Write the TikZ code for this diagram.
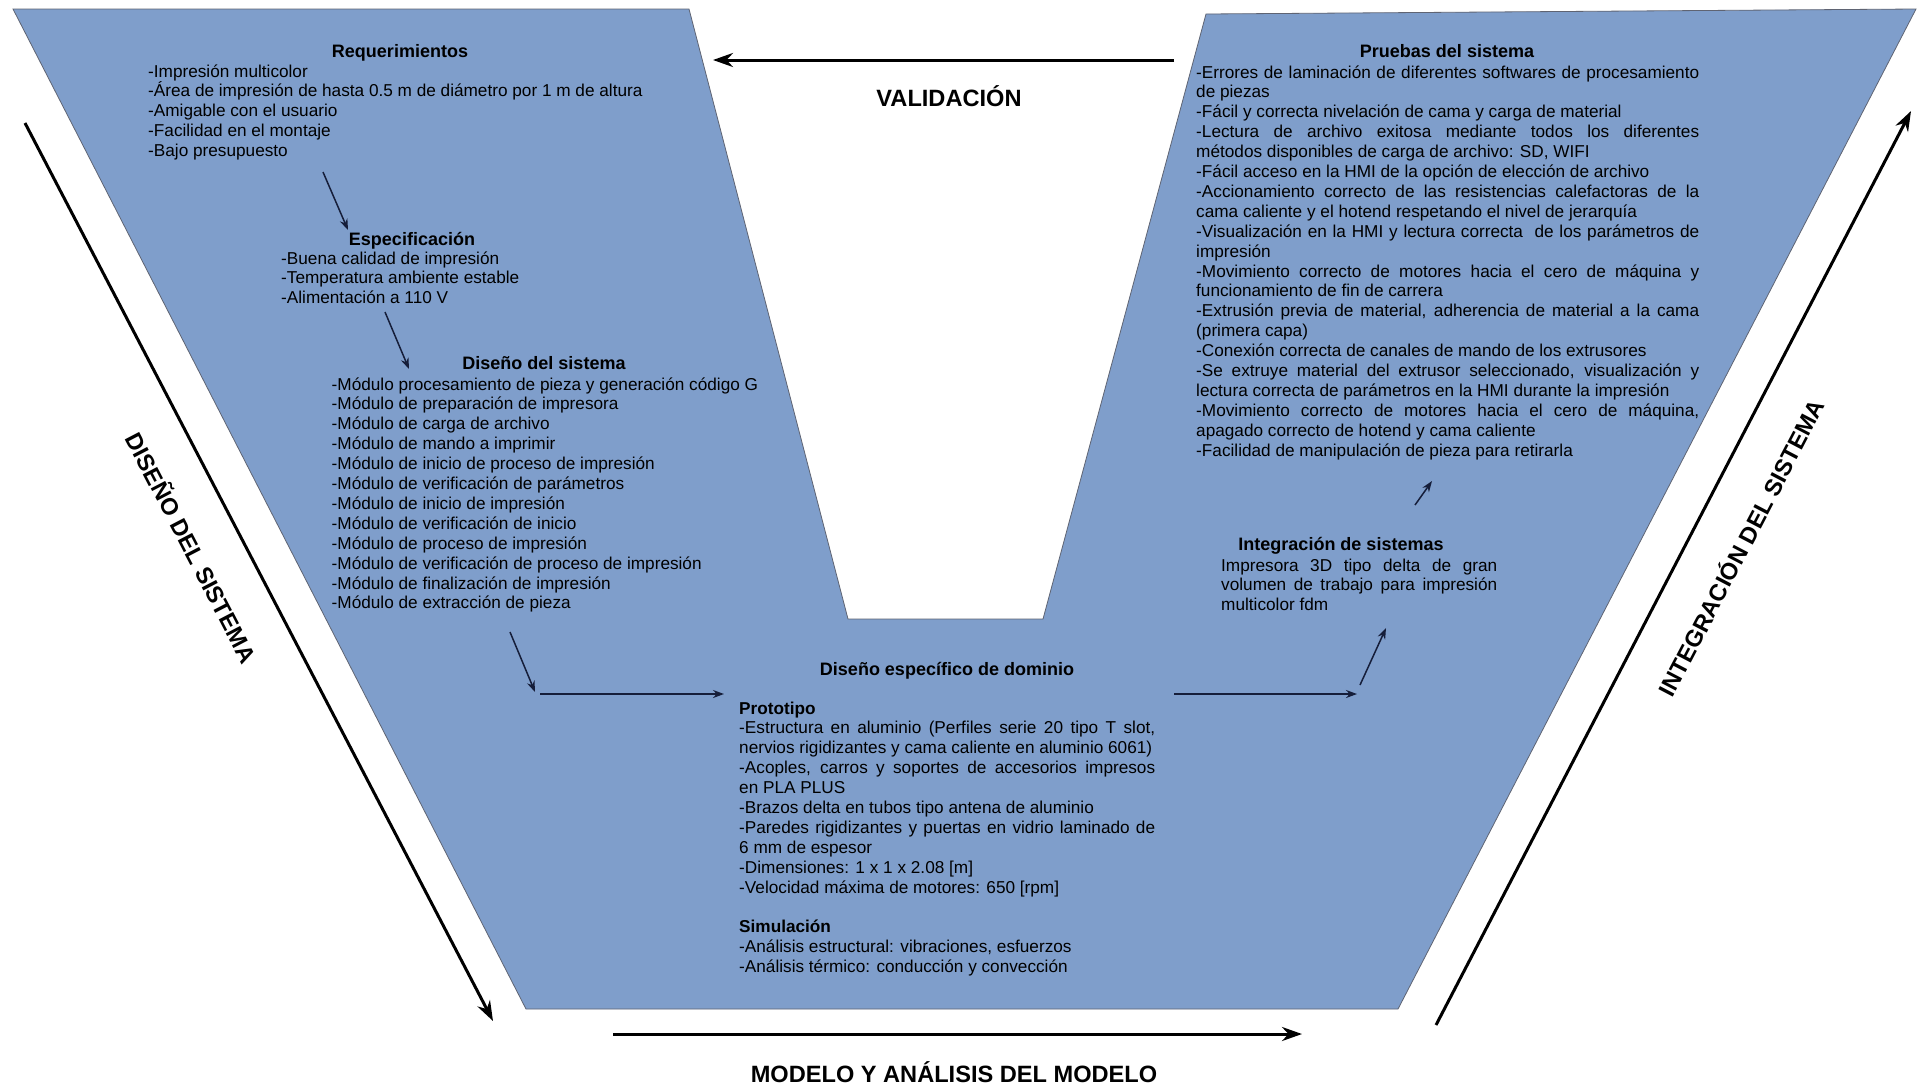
\documentclass[tikz,border=0pt]{standalone}
\usepackage{fontspec}
\setmainfont{Liberation Sans}
\usetikzlibrary{arrows.meta}
\definecolor{vfill}{RGB}{127,158,203}
\definecolor{vedge}{RGB}{95,100,115}
\definecolor{inarr}{RGB}{22,30,58}
\newcommand{\jl}[2]{\makebox[#1][s]{#2}}
\begin{document}
\begin{tikzpicture}[x=1pt,y=-1pt,
  body/.style={anchor=base west, inner sep=0pt, align=left, font=\fontsize{17.2}{19.9}\selectfont, text=black},
  ttl/.style={anchor=base, inner sep=0pt, font=\bfseries\fontsize{18}{20}\selectfont, text=black},
  big/.style={inner sep=0pt, font=\bfseries\fontsize{23.6}{26}\selectfont, text=black},
  inarrow/.style={draw=inarr, line width=1.5pt, -{Stealth[length=11pt,width=8pt]}},
  outarrow/.style={draw=black, line width=3pt, -{Stealth[length=20pt,width=14pt]}},
]
\useasboundingbox (0,0) rectangle (1918,1088);
\fill[white] (0,0) rectangle (1918,1088);

% V shape
\draw[fill=vfill, draw=vedge, line width=0.8pt]
  (13,9) -- (689,9) -- (848,619) -- (1043,619) -- (1206,14) -- (1916,9)
  -- (1398,1009) -- (526,1009) -- cycle;

% outer arrows
\coordinate (valS) at (1174,60);
\coordinate (valE) at (713,60);
\coordinate (dsS) at (25,123);
\coordinate (dsE) at (493,1021);
\coordinate (mdS) at (613,1034);
\coordinate (mdE) at (1302,1034);
\coordinate (isS) at (1436,1025);
\coordinate (isE) at (1911,111);
\draw[outarrow] (valS) -- (valE);
\draw[outarrow] (dsS) -- (dsE);
\draw[outarrow] (mdS) -- (mdE);
\draw[outarrow] (isS) -- (isE);

\node[big, anchor=base] (val) at (949,106.5) {VALIDACIÓN};
\node[big, anchor=base] (mod) at (954,1082.5) {MODELO Y ANÁLISIS DEL MODELO};
\node[big, rotate=-62.5] (dis) at (193,547) {DISEÑO DEL SISTEMA};
\node[big, rotate=62.4] (int) at (1740,547) {INTEGRACIÓN DEL SISTEMA};

% Requerimientos (anchor = baseline of last line)
\node[ttl] (reqT) at (400,57) {Requerimientos};
\node[body] (reqB) at (148,156.6) {-Impresión multicolor\\
-Área de impresión de hasta 0.5 m de diámetro por 1 m de altura\\
-Amigable con el usuario\\
-Facilidad en el montaje\\
-Bajo presupuesto};

% Especificacion
\node[ttl] (espT) at (412,245) {Especificación};
\node[body] (espB) at (281,303.8) {-Buena calidad de impresión\\
-Temperatura ambiente estable\\
-Alimentación a 110 V};

% Diseno del sistema
\node[ttl] (disT) at (544,369) {Diseño del sistema};
\node[body] (disB) at (331.5,608.9) {-Módulo procesamiento de pieza y generación código G\\
-Módulo de preparación de impresora\\
-Módulo de carga de archivo\\
-Módulo de mando a imprimir\\
-Módulo de inicio de proceso de impresión\\
-Módulo de verificación de parámetros\\
-Módulo de inicio de impresión\\
-Módulo de verificación de inicio\\
-Módulo de proceso de impresión\\
-Módulo de verificación de proceso de impresión\\
-Módulo de finalización de impresión\\
-Módulo de extracción de pieza};

% Diseno especifico de dominio
\node[ttl] (domT) at (947,675) {Diseño específico de dominio};
\node[body] (domB) at (739,972.7) {\textbf{Prototipo}\\
\jl{416pt}{-Estructura en aluminio (Perfiles serie 20 tipo T slot,}\\
nervios rigidizantes y cama caliente en aluminio 6061)\\
\jl{416pt}{-Acoples, carros y soportes de accesorios impresos}\\
en PLA PLUS\\
-Brazos delta en tubos tipo antena de aluminio\\
\jl{416pt}{-Paredes rigidizantes y puertas en vidrio laminado de}\\
6 mm de espesor\\
-Dimensiones: 1 x 1 x 2.08 [m]\\
-Velocidad máxima de motores: 650 [rpm]\\[19.9pt]
\textbf{Simulación}\\
-Análisis estructural: vibraciones, esfuerzos\\
-Análisis térmico: conducción y convección};

% Integracion de sistemas
\node[ttl] (intT) at (1341,550) {Integración de sistemas};
\node[body] (intB) at (1221,610.8) {\jl{276pt}{Impresora 3D tipo delta de gran}\\
\jl{276pt}{volumen de trabajo para impresión}\\
multicolor fdm};

% Pruebas del sistema
\node[ttl] (prT) at (1447,57) {Pruebas del sistema};
\node[body] (prB) at (1196,456.1) {\jl{503pt}{-Errores de laminación de diferentes softwares de procesamiento}\\
de piezas\\
-Fácil y correcta nivelación de cama y carga de material\\
\jl{503pt}{-Lectura de archivo exitosa mediante todos los diferentes}\\
métodos disponibles de carga de archivo: SD, WIFI\\
-Fácil acceso en la HMI de la opción de elección de archivo\\
\jl{503pt}{-Accionamiento correcto de las resistencias calefactoras de la}\\
cama caliente y el hotend respetando el nivel de jerarquía\\
\jl{503pt}{-Visualización en la HMI y lectura correcta \ de los parámetros de}\\
impresión\\
\jl{503pt}{-Movimiento correcto de motores hacia el cero de máquina y}\\
funcionamiento de fin de carrera\\
\jl{503pt}{-Extrusión previa de material, adherencia de material a la cama}\\
(primera capa)\\
-Conexión correcta de canales de mando de los extrusores\\
\jl{503pt}{-Se extruye material del extrusor seleccionado, visualización y}\\
lectura correcta de parámetros en la HMI durante la impresión\\
\jl{503pt}{-Movimiento correcto de motores hacia el cero de máquina,}\\
apagado correcto de hotend y cama caliente\\
-Facilidad de manipulación de pieza para retirarla};

% inner arrows
\coordinate (a1s) at (323,172);
\coordinate (a1e) at (348,230);
\coordinate (a2s) at (385,312);
\coordinate (a2e) at (409,369);
\coordinate (a3s) at (510,632);
\coordinate (a3e) at (535,692);
\coordinate (a4s) at (540,694);
\coordinate (a4e) at (724,694);
\coordinate (a5s) at (1174,694);
\coordinate (a5e) at (1357,694);
\coordinate (a6s) at (1360,685);
\coordinate (a6e) at (1386,628);
\coordinate (a7s) at (1415,505);
\coordinate (a7e) at (1432,481);
\draw[inarrow] (a1s) -- (a1e);
\draw[inarrow] (a2s) -- (a2e);
\draw[inarrow] (a3s) -- (a3e);
\draw[inarrow] (a4s) -- (a4e);
\draw[inarrow] (a5s) -- (a5e);
\draw[inarrow] (a6s) -- (a6e);
\draw[inarrow] (a7s) -- (a7e);
\end{tikzpicture}
\end{document}
